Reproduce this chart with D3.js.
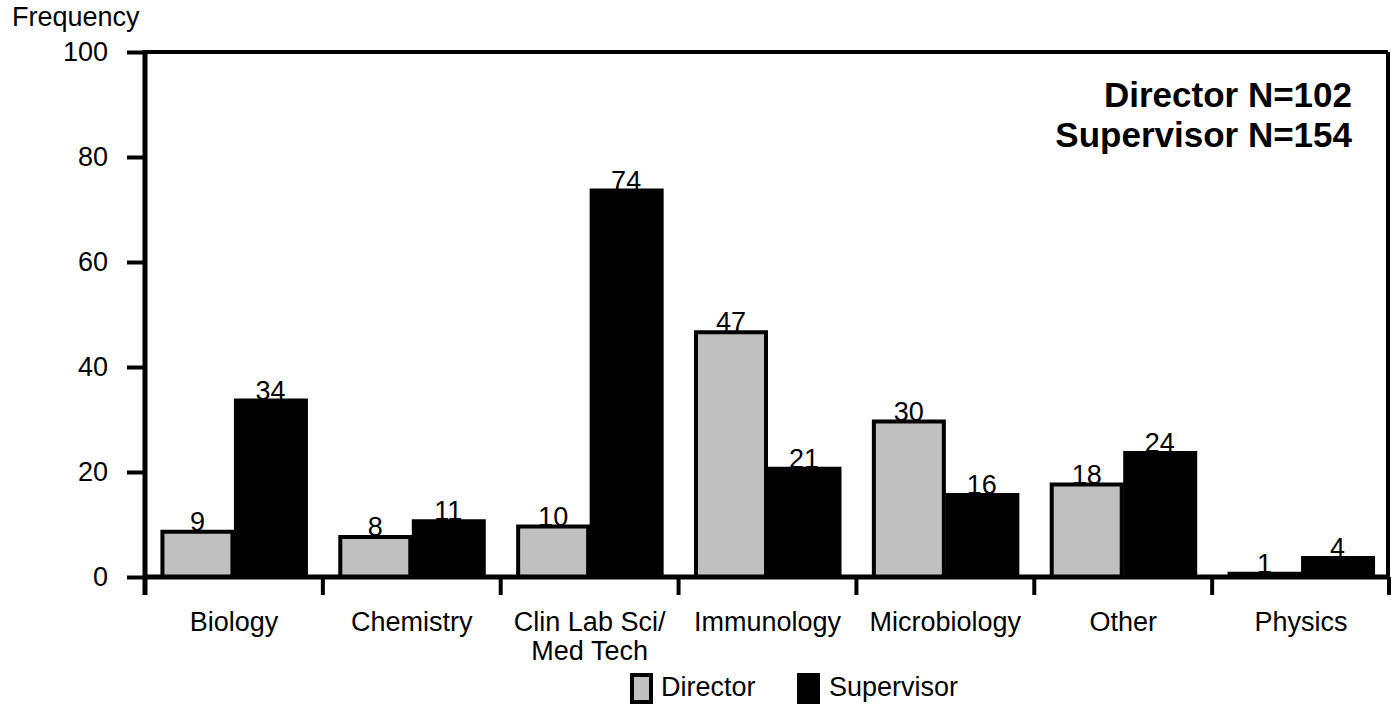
<!DOCTYPE html>
<html><head><meta charset="utf-8">
<script src="https://cdn.jsdelivr.net/npm/d3@7"></script>
<style>body{margin:0;background:#fff}svg{display:block;font-family:Arial,"Liberation Sans",Helvetica,sans-serif}</style>
</head><body>
<svg id="c" width="1392" height="709"></svg>
<script>
const categories = [["Biology"],["Chemistry"],["Clin Lab Sci/","Med Tech"],["Immunology"],["Microbiology"],["Other"],["Physics"]];
const director = [9, 8, 10, 47, 30, 18, 1];
const supervisor = [34, 11, 74, 21, 16, 24, 4];
const yTicks = [0, 20, 40, 60, 80, 100];
const seriesNames = ["Director", "Supervisor"];

const svg = d3.select("#c");
const L = 145, R = 1390, T = 52, B = 577;
const FS = 27;
const x = d3.scaleBand().domain(d3.range(categories.length)).range([L, R]).paddingInner(0).paddingOuter(0);
const y = d3.scaleLinear().domain([0, 100]).range([B, T]);
const bw = 73;

// frame top and right
svg.append("line").attr("x1", L).attr("x2", 1388).attr("y1", T).attr("y2", T).attr("stroke", "#000").attr("stroke-width", 4);
svg.append("line").attr("x1", 1388).attr("x2", 1388).attr("y1", T).attr("y2", B).attr("stroke", "#000").attr("stroke-width", 4);

// bars
const g = svg.append("g");
categories.forEach((c, i) => {
  const cx = x(i) + x.bandwidth() / 2;
  const dTop = y(director[i]);
  g.append("rect").attr("x", cx - bw + 1.5).attr("y", dTop + 2).attr("width", bw - 3).attr("height", B - dTop - 2)
    .attr("fill", "#c0c0c0").attr("stroke", "#000").attr("stroke-width", 4);
  const sTop = y(supervisor[i]);
  g.append("rect").attr("x", cx).attr("y", sTop).attr("width", bw + 1).attr("height", B - sTop).attr("fill", "#000");
  g.append("text").attr("x", cx - bw / 2).attr("y", dTop + 1).attr("text-anchor", "middle").attr("font-size", FS).text(director[i]);
  g.append("text").attr("x", cx + bw / 2).attr("y", sTop + 1).attr("text-anchor", "middle").attr("font-size", FS).text(supervisor[i]);
  const t = g.append("text").attr("text-anchor", "middle").attr("font-size", FS);
  c.forEach((line, k) => t.append("tspan").attr("x", cx).attr("y", 631 + k * 29).text(line));
});

// y axis
const yAxis = svg.append("g").attr("transform", `translate(${L},0)`)
  .call(d3.axisLeft(y).tickValues(yTicks).tickSize(18).tickPadding(19));
yAxis.select(".domain").remove();
yAxis.selectAll(".tick line").attr("stroke-width", 4);
yAxis.selectAll(".tick text").attr("font-size", FS).attr("fill", "#000").attr("font-family", "Arial, 'Liberation Sans', sans-serif");
svg.append("line").attr("x1", L).attr("x2", L).attr("y1", T - 2).attr("y2", B + 18).attr("stroke", "#000").attr("stroke-width", 5);

// x axis
const xTickPos = d3.range(categories.length + 1).map(i => i < categories.length ? x(i) : R - 1);
svg.append("line").attr("x1", L).attr("x2", 1390).attr("y1", B).attr("y2", B).attr("stroke", "#000").attr("stroke-width", 5);
xTickPos.forEach(p => svg.append("line").attr("x1", p).attr("x2", p).attr("y1", B).attr("y2", B + 18).attr("stroke", "#000").attr("stroke-width", 4));

// titles
svg.append("text").attr("x", 12).attr("y", 26).attr("font-size", FS).text("Frequency");
svg.append("text").attr("x", 1352).attr("y", 107).attr("text-anchor", "end").attr("font-size", 35).attr("font-weight", "bold").text("Director N=102");
svg.append("text").attr("x", 1352).attr("y", 147).attr("text-anchor", "end").attr("font-size", 35).attr("font-weight", "bold").text("Supervisor N=154");

// legend
svg.append("rect").attr("x", 632).attr("y", 675).attr("width", 19).attr("height", 27).attr("fill", "#c0c0c0").attr("stroke", "#000").attr("stroke-width", 4);
svg.append("text").attr("x", 661).attr("y", 696).attr("font-size", FS).text(seriesNames[0]);
svg.append("rect").attr("x", 797).attr("y", 673).attr("width", 23).attr("height", 31).attr("fill", "#000");
svg.append("text").attr("x", 829).attr("y", 696).attr("font-size", FS).text(seriesNames[1]);
</script>
</body></html>
